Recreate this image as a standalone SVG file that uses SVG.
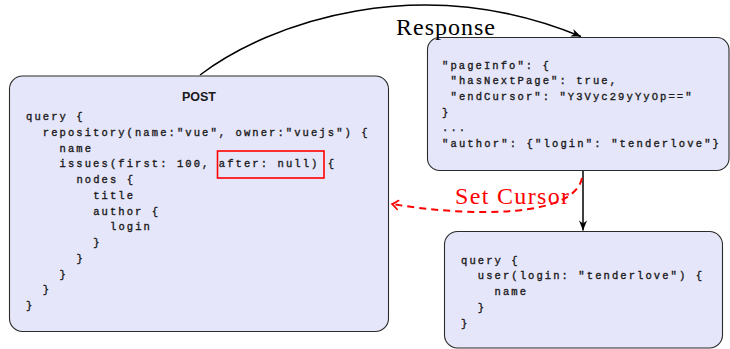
<svg xmlns="http://www.w3.org/2000/svg" width="730" height="349" viewBox="0 0 730 349">
  <style>
    .box { fill: #E6E6FA; stroke: #2b2b2b; stroke-width: 1.1; }
    .code { font-family: "Liberation Mono", "DejaVu Sans Mono", monospace; font-size: 10.5px; letter-spacing: 2.08px; fill: #1a1a1a; stroke: #1a1a1a; stroke-width: 0.35px; }
    .title { font-family: "Liberation Sans", Arial, sans-serif; font-size: 12.5px; font-weight: bold; fill: #1a1a1a; text-anchor: middle; }
    .lbl { font-family: "Liberation Serif", "Times New Roman", serif; font-size: 24px; }
    .conn { fill: none; stroke: #000; stroke-width: 1.5; }
    .dash { fill: none; stroke: #ff0000; stroke-width: 2; stroke-dasharray: 7 5; }
  </style>
  <defs>
    <marker id="stealth" viewBox="-11 -5 12 10" refX="0" refY="0" markerWidth="12" markerHeight="10" markerUnits="userSpaceOnUse" orient="auto">
      <path d="M0,0 L-10,-4 L-7,0 L-10,4 Z" fill="#000"/>
    </marker>
    <marker id="openred" viewBox="-8 -6 9 12" refX="0" refY="0" markerWidth="9" markerHeight="12" markerUnits="userSpaceOnUse" orient="auto">
      <path d="M-6,-4.5 Q-2,-1 0,0 Q-2,1 -6,4.5" fill="none" stroke="#ff0000" stroke-width="1.6" stroke-linecap="round"/>
    </marker>
  </defs>

  <rect width="730" height="349" fill="#ffffff"/>

  <g id="connectors">
    <path id="edge-response" class="conn" d="M200,75 C270,22 420,-30 581,36.5" marker-end="url(#stealth)"/>
    <path id="edge-down" class="conn" d="M583,171 L583,230.5" marker-end="url(#stealth)"/>
    <path id="edge-setcursor" class="dash" d="M582,178 C574,218 470,217 392,204" marker-end="url(#openred)"/>
  </g>

  <g id="node-post">
    <rect class="box" x="9.5" y="76" width="379" height="255.5" rx="13" ry="13"/>
    <text class="title" x="199" y="101">POST</text>
    <text class="code" x="26" y="120">query {</text>
    <text class="code" x="42.8" y="135.75">repository(name:"vue", owner:"vuejs") {</text>
    <text class="code" x="59.6" y="151.5">name</text>
    <text class="code" x="59.6" y="167.25">issues(first: 100, after: null) {</text>
    <text class="code" x="76.4" y="183">nodes {</text>
    <text class="code" x="93.2" y="198.75">title</text>
    <text class="code" x="93.2" y="214.5">author {</text>
    <text class="code" x="110" y="230.25">login</text>
    <text class="code" x="93.2" y="246">}</text>
    <text class="code" x="76.4" y="261.75">}</text>
    <text class="code" x="59.6" y="277.5">}</text>
    <text class="code" x="42.8" y="293.25">}</text>
    <text class="code" x="26" y="309">}</text>
    <rect id="highlight" x="217.5" y="151" width="106.5" height="27" fill="none" stroke="#ff0000" stroke-width="1.6"/>
  </g>

  <g id="node-response">
    <rect class="box" x="427.5" y="37.5" width="301.5" height="133" rx="12" ry="12"/>
    <text class="code" x="442" y="68.5">"pageInfo": {</text>
    <text class="code" x="450.5" y="84.2">"hasNextPage": true,</text>
    <text class="code" x="450.5" y="99.9">"endCursor": "Y3Vyc29yYyOp=="</text>
    <text class="code" x="442" y="115.6">}</text>
    <text class="code" x="442" y="131.3">...</text>
    <text class="code" x="442" y="147" textLength="279">"author": {"login": "tenderlove"}</text>
  </g>

  <g id="node-user-query">
    <rect class="box" x="444.5" y="231.5" width="278" height="116.5" rx="13" ry="13"/>
    <text class="code" x="461" y="263.5">query {</text>
    <text class="code" x="477.8" y="279.25">user(login: "tenderlove") {</text>
    <text class="code" x="494.6" y="295">name</text>
    <text class="code" x="477.8" y="310.75">}</text>
    <text class="code" x="461" y="326.5">}</text>
  </g>

  <g id="labels">
    <text class="lbl" x="396" y="35" textLength="99" fill="#000">Response</text>
    <text class="lbl" x="455" y="204" textLength="114" fill="#ff0000">Set Cursor</text>
  </g>
</svg>
